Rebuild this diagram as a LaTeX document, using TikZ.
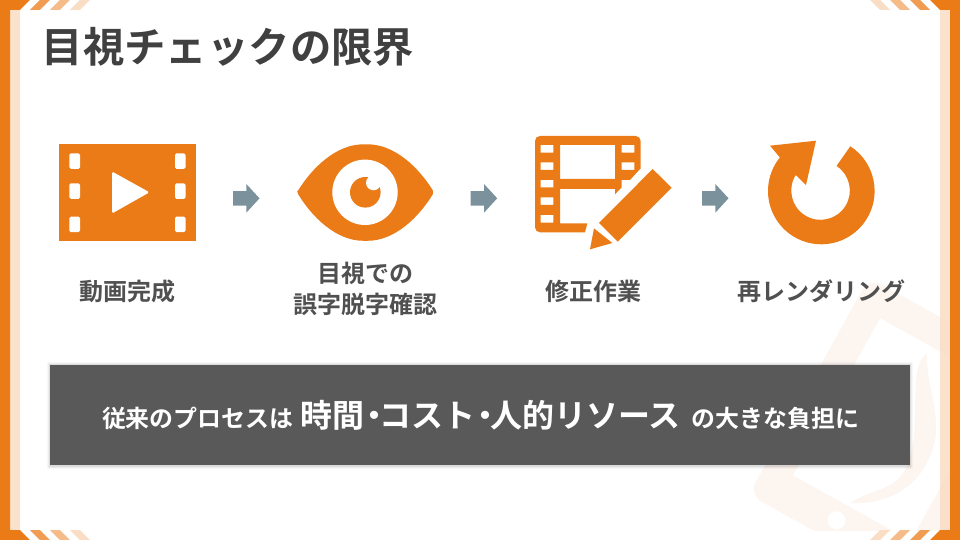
\documentclass[tikz,border=0pt]{standalone}
\usepackage{fontspec}
\setmainfont{Noto Sans CJK JP}[BoldFont={Noto Sans CJK JP Bold}]
\definecolor{orangeA}{HTML}{EB7B16}
\definecolor{frameL}{HTML}{FADDC5}
\definecolor{stripeA}{HTML}{F09C52}
\definecolor{stripeB}{HTML}{F5BC8A}
\definecolor{stripeC}{HTML}{FADDC5}
\definecolor{titleC}{HTML}{404040}
\definecolor{labelC}{HTML}{505050}
\definecolor{bandC}{HTML}{595959}
\definecolor{arrowC}{HTML}{7B919C}
\definecolor{markC}{HTML}{FDF5F0}
\tikzset{
  icon/.style={fill=orangeA,draw=none},
  hole/.style={fill=white,draw=none},
  lbl/.style={anchor=base,inner sep=0pt,font=\bfseries\fontsize{24}{24}\selectfont,text=labelC},
}
\newcommand{\blockarrow}[1]{\fill[arrowC,shift={(#1,0)}] (233,191)--(246.3,191)--(246.3,184)--(259.5,198.3)--(246.3,212.7)--(246.3,205.7)--(233,205.7)--cycle;}
\begin{document}
\begin{tikzpicture}[x=1pt,y=-1pt]
\useasboundingbox (0,0) rectangle (960,540);
\fill[white] (0,0) rectangle (960,540);
% watermark
\begin{scope}
\clip (0,0) rectangle (950,530);
\begin{scope}[shift={(880,318)},rotate=-29]
\fill[markC,even odd rule,rounded corners=14pt] (-29,-30) rectangle (165,218) (0,0) [sharp corners] rectangle (135,180);
\fill[white] (60,198) circle (9);
\end{scope}
\fill[markC] (927,353) .. controls (905,370) and (925,430) .. (905,470) .. controls (895,490) and (870,490) .. (850,503) .. controls (890,505) and (925,485) .. (935,440) .. controls (940,410) and (925,380) .. (927,353) -- cycle;
\end{scope}
% frame
\fill[frameL,opacity=.85] (10,10) rectangle (20,530) (940,10) rectangle (950,530);
\fill[orangeA] (0,0) rectangle (10,540) (950,0) rectangle (960,540);
\fill[orangeA] (0,0)--(30,0)--(20,10)--(0,10)--cycle (960,0)--(930,0)--(940,10)--(960,10)--cycle
 (0,540)--(30,540)--(20,530)--(0,530)--cycle (960,540)--(930,540)--(940,530)--(960,530)--cycle;
\foreach \a/\c in {0/stripeA,20/stripeB,40/stripeC}{
 \fill[\c] (30+\a,10)--(40+\a,10)--(50+\a,0)--(40+\a,0)--cycle;
 \fill[\c] (930-\a,10)--(920-\a,10)--(910-\a,0)--(920-\a,0)--cycle;
 \fill[\c] (30+\a,530)--(40+\a,530)--(50+\a,540)--(40+\a,540)--cycle;
 \fill[\c] (930-\a,530)--(920-\a,530)--(910-\a,540)--(920-\a,540)--cycle;
}
% title
\node[anchor=base west,inner sep=0pt,font=\bfseries\fontsize{41.4}{41.4}\selectfont,text=titleC] (title) at (41.5,63) {目視チェックの限界};
% film icon
\fill[icon] (59,144) rectangle (196,241);
\foreach \y in {153.3,183.3,216.7}{
 \fill[hole,rounded corners=1.5pt] (69.3,\y) rectangle (80,\y+15.5);
 \fill[hole,rounded corners=1.5pt] (175,\y) rectangle (185.5,\y+15.5);
}
\fill[hole,rounded corners=1.5pt] (112,171.5)--(149.5,192.3)--(112,213.5)--cycle;
% eye icon
\fill[icon,rounded corners=2pt] (297,192.3) .. controls (312,168) and (336,144.3) .. (365.5,144.3) .. controls (395,144.3) and (419,168) .. (434,192.3) .. controls (419,217) and (395,240.8) .. (365.5,240.8) .. controls (336,240.8) and (312,217) .. (297,192.3) -- cycle;
\fill[hole] (365,192.3) circle (32.7);
\fill[icon] (365.3,192.3) circle (15.3);
\fill[hole] (373.5,182.8) circle (7.5);
% film edit icon
\begin{scope}[shift={(525,125)},x=0.3333pt,y=-0.3333pt]
\fill[icon,even odd rule]
 (45,33)--(332,33) to[out=0,in=90] (347,48) --(347,130)--(315,165)--(290,165)--(290,187)--(270,208)--(270,192)--(105,192)--(105,295)--(187,295)--(180,322)--(45,322) to[out=180,in=-90] (30,307)--(30,48) to[out=90,in=180] (45,33)--cycle
 (105,60) rectangle (270,162)
 (47,60) rectangle (85,83) (47,112) rectangle (85,135) (47,165) rectangle (85,187) (47,217) rectangle (85,240) (47,270) rectangle (85,293)
 (290,60) rectangle (328,83) (290,112) rectangle (328,135);
\fill[icon] (383,132)--(440,188)--(278,350)--(222,294)--cycle;
\fill[icon] (207,310)--(262,354)--(195,373)--cycle;
\end{scope}
% rotate icon
\fill[icon] (821.3,191) ++(-57:53.3) arc (-57:219:53.3) -- (770,145.7) -- (816,140.7) -- (806,185) -- (795.7,175) arc (212:-57:29.3) -- cycle;
% block arrows
\blockarrow{0}
\blockarrow{237.7}
\blockarrow{469}
% labels
\node[lbl] (lblA) at (127.5,300) {動画完成};
\node[lbl] (lblB) at (365.5,282) {目視での};
\node[lbl] (lblBb) at (365.5,313) {誤字脱字確認};
\node[lbl] (lblC) at (593.5,300) {修正作業};
\node[lbl] (lblD) at (821.5,300) {再レンダリング};
% band
\foreach \e/\o in {3/.03,2/.04,1/.07}{
 \fill[black,opacity=\o] (50-\e,365-\e) rectangle (910+\e,465+\e+1);
}
\fill[bandC] (50,365) rectangle (910,465);
\node[anchor=base,inner sep=0pt,text=white,font=\bfseries\fontsize{23.9}{24}\selectfont] (bandText) at (480.5,427) {従来のプロセスは\hspace{7pt}{\fontsize{32}{32}\selectfont 時間\makebox[15pt][l]{\hspace{-6pt}・}コスト\makebox[15pt][l]{\hspace{-6pt}・}人的リソース}\hspace{11pt}の大きな負担に};
\end{tikzpicture}
\end{document}
